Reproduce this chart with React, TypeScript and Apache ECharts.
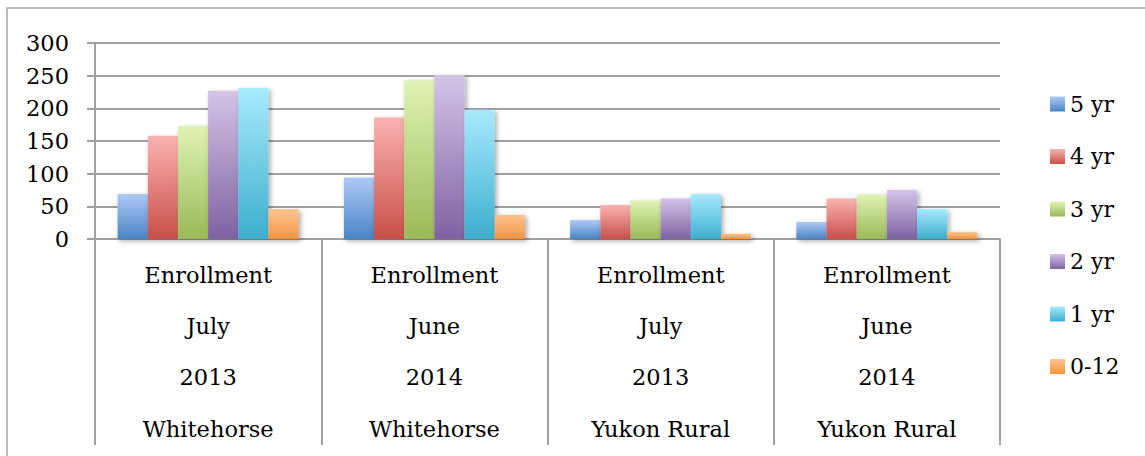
import React, { useEffect, useRef } from "react";
import * as echarts from "echarts";

const categories = [
  "Enrollment\nJuly\n2013\nWhitehorse",
  "Enrollment\nJune\n2014\nWhitehorse",
  "Enrollment\nJuly\n2013\nYukon Rural",
  "Enrollment\nJune\n2014\nYukon Rural",
];
const seriesNames = ["5 yr", "4 yr", "3 yr", "2 yr", "1 yr", "0-12"];
const yr5 = [69, 94, 29, 26];
const yr4 = [158, 186, 52, 62];
const yr3 = [173, 243, 59, 68];
const yr2 = [227, 251, 62, 75];
const yr1 = [231, 198, 69, 46];
const m012 = [46, 37, 8, 11];
const yTicks = [0, 50, 100, 150, 200, 250, 300];

const seriesValues = [yr5, yr4, yr3, yr2, yr1, m012];
const gradients: [string, string][] = [
  ["#adc9f6", "#4a84c4"],
  ["#fab3b0", "#c84f49"],
  ["#dff3b4", "#9ab957"],
  ["#d3c4e8", "#7f62a1"],
  ["#a8eafd", "#3caecd"],
  ["#fec493", "#f6943f"],
];

const FONT = "DejaVu Serif";

export default function App() {
  const ref = useRef<HTMLDivElement>(null);
  useEffect(() => {
    if (!ref.current) return;
    const chart = echarts.init(ref.current, null, { renderer: "svg" });
    chart.setOption({
      animation: false,
      backgroundColor: "#ffffff",
      textStyle: { fontFamily: FONT },
      graphic: [
        {
          type: "rect",
          shape: { x: 7, y: 8, width: 1300, height: 600 },
          style: { fill: "none", stroke: "#a6a6a6", lineWidth: 1.5 },
          silent: true,
          z: -1,
        },
      ],
      legend: {
        orient: "vertical",
        left: 1045,
        top: 87,
        itemWidth: 15,
        itemHeight: 15,
        itemGap: 28.5,
        icon: "rect",
        data: seriesNames,
        textStyle: { fontFamily: FONT, fontSize: 22, color: "#000", lineHeight: 24 },
      },
      grid: { left: 95, right: 145, top: 43, bottom: 217, containLabel: false },
      xAxis: {
        type: "category",
        data: categories,
        axisLine: { show: true, lineStyle: { color: "#a0a0a0", width: 2 } },
        axisTick: {
          show: true,
          interval: 0,
          length: 206,
          lineStyle: { color: "#a0a0a0", width: 2 },
        },
        axisLabel: {
          interval: 0,
          margin: 10,
          fontFamily: FONT,
          fontSize: 22.5,
          color: "#000",
          lineHeight: 51.3,
        },
      },
      yAxis: {
        type: "value",
        min: 0,
        max: 300,
        interval: 50,
        axisLine: { show: true, lineStyle: { color: "#a0a0a0", width: 2 } },
        axisTick: { show: true, length: 8, lineStyle: { color: "#a0a0a0", width: 2 } },
        splitLine: { show: true, lineStyle: { color: "#a0a0a0", width: 2 } },
        axisLabel: {
          margin: 26,
          fontFamily: FONT,
          fontSize: 22.5,
          color: "#000",
          formatter: (v: number) => (yTicks.includes(v) ? String(v) : ""),
        },
      },
      series: seriesNames.map((name, i) => ({
        name,
        type: "bar",
        data: seriesValues[i],
        barGap: "0%",
        barCategoryGap: "20%",
        itemStyle: {
          color: new echarts.graphic.LinearGradient(0, 0, 0, 1, [
            { offset: 0, color: gradients[i][0] },
            { offset: 1, color: gradients[i][1] },
          ]),
          shadowColor: "rgba(0,0,0,0.35)",
          shadowBlur: 5,
          shadowOffsetX: 2,
          shadowOffsetY: 2,
        },
      })),
    });
    return () => chart.dispose();
  }, []);
  return (
    <div
      ref={ref}
      style={{ position: "absolute", left: 0, top: 0, width: 1145, height: 456 }}
    />
  );
}
